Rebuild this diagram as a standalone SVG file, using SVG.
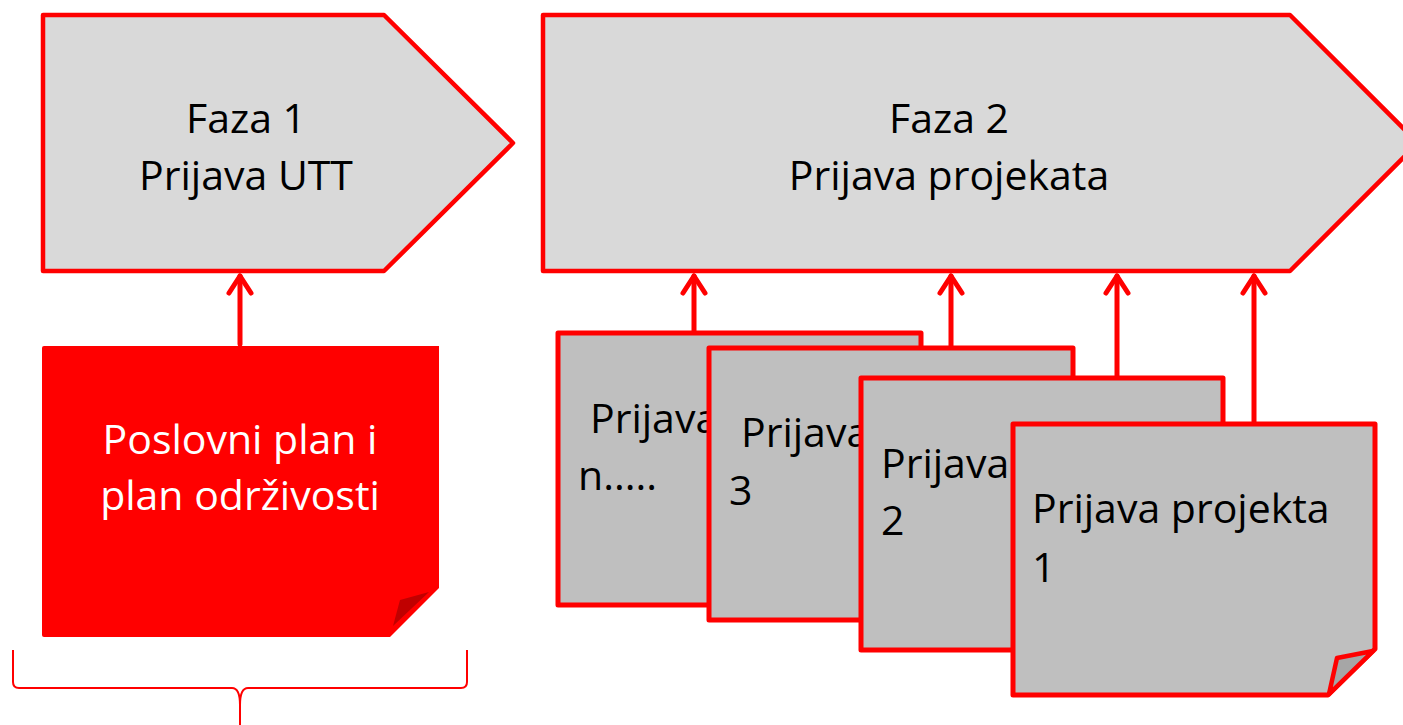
<svg xmlns="http://www.w3.org/2000/svg" width="1403" height="725" viewBox="0 0 1403 725">
<style>
.phase{fill:#D9D9D9;stroke:#FF0000;stroke-width:4.5;stroke-linejoin:round}
.card{fill:#BFBFBF;stroke:#FF0000;stroke-width:5;stroke-linejoin:round}
.t{font-family:"Open Sans","Noto Sans","Liberation Sans",sans-serif;font-size:41px;fill:#000}
.tc{text-anchor:middle}
.w{fill:#FFFFFF}
.conn line,.conn polyline{stroke:#FF0000;stroke-width:5;fill:none;stroke-linecap:round;stroke-linejoin:round}
.brace{stroke:#FF0000;stroke-width:2;fill:none}
</style>
<rect width="1403" height="725" fill="#FFFFFF"/>

<g id="faza1">
<polygon class="phase" points="43,15 384,15 513,143 384,271 43,271"/>
<text class="t tc" x="246" y="133">Faza 1</text>
<text class="t tc" x="246" y="190">Prijava UTT</text>
</g>

<g id="faza2">
<polygon class="phase" points="543,15 1290,15 1418,143 1290,271 543,271"/>
<text class="t tc" x="949" y="133">Faza 2</text>
<text class="t tc" x="949" y="190">Prijava projekata</text>
</g>

<g id="poslovni-plan">
<path d="M44,346 H439 V588 L390,637 H44 Q42,637 42,635 V348 Q42,346 44,346 Z" fill="#FF0000"/>
<polygon points="393,626 400,600 429,592" fill="#C00000"/>
<text class="t tc w" x="240" y="454">Poslovni plan i</text>
<text class="t tc w" x="240" y="510">plan održivosti</text>
</g>

<g id="prijava-n">
<rect class="card" x="558" y="333" width="363" height="272"/>
<text class="t" x="590" y="433">Prijava</text>
<text class="t" x="578" y="490">n.....</text>
</g>

<g id="prijava-3">
<rect class="card" x="709" y="348" width="364" height="272"/>
<text class="t" x="741" y="447">Prijava</text>
<text class="t" x="729" y="505">3</text>
</g>

<g id="prijava-2">
<rect class="card" x="861" y="378" width="362" height="272"/>
<text class="t" x="881" y="478">Prijava</text>
<text class="t" x="881" y="535">2</text>
</g>

<g id="prijava-1">
<path class="card" d="M1013,424 H1375 V649 L1328,695 H1013 Z"/>
<polygon points="1329,694 1337,658 1373,651" fill="#A6A6A6" stroke="#FF0000" stroke-width="4.5" stroke-linejoin="round"/>
<text class="t" x="1032" y="523">Prijava projekta</text>
<text class="t" x="1032" y="582">1</text>
</g>

<g id="connectors" class="conn">
<line x1="240" y1="344" x2="240" y2="276"/>
<polyline points="229,293 240,276 251,293"/>
<line x1="694" y1="331" x2="694" y2="276"/>
<polyline points="683,293 694,276 705,293"/>
<line x1="951" y1="346" x2="951" y2="276"/>
<polyline points="940,293 951,276 962,293"/>
<line x1="1117" y1="376" x2="1117" y2="276"/>
<polyline points="1106,293 1117,276 1128,293"/>
<line x1="1254" y1="422" x2="1254" y2="276"/>
<polyline points="1243,293 1254,276 1265,293"/>
</g>

<g id="brace">
<path class="brace" d="M13,650 V682 Q13,688 19,688 H232 Q240,688 240,705 V725 M467,650 V682 Q467,688 461,688 H248 Q240,688 240,705"/>
</g>
</svg>
